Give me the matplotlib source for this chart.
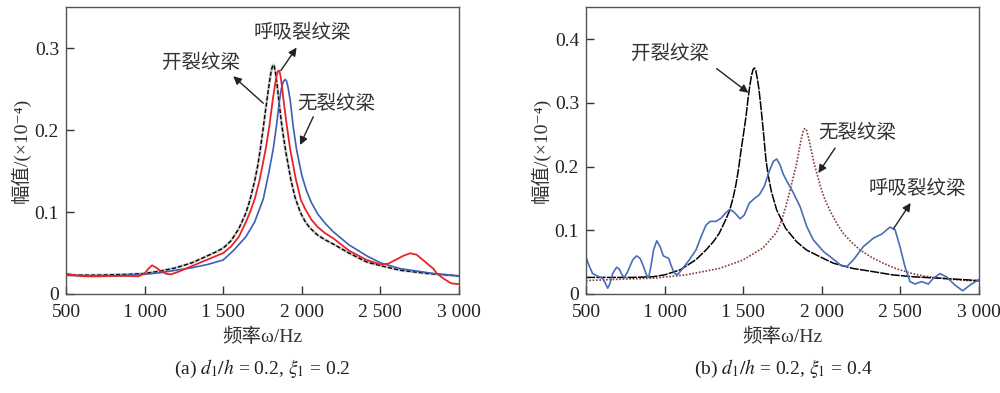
import matplotlib
matplotlib.use("Agg")
import matplotlib.pyplot as plt
from matplotlib.ticker import FixedLocator, FixedFormatter

plt.rcParams['font.family'] = ['Liberation Serif', 'Noto Sans CJK SC', 'DejaVu Sans']
plt.rcParams['mathtext.fontset'] = 'stix'

# ---- panel (a): d1/h = 0.2, xi1 = 0.2 ----
a_open_f = [500, 700, 900, 1000, 1100, 1200, 1300, 1370, 1450, 1500, 1550, 1600, 1640,
            1660, 1680, 1700, 1720, 1734, 1750, 1765, 1781, 1795, 1805, 1813, 1819,
            1825, 1832, 1842, 1853, 1870, 1885, 1900, 1930, 1957, 1990, 2020, 2050,
            2100, 2150, 2200, 2300, 2413, 2500, 2625, 2800, 3000]
a_open_amp = [0.023, 0.023, 0.024, 0.025, 0.028, 0.032, 0.038, 0.044, 0.051, 0.056,
              0.065, 0.080, 0.097, 0.108, 0.122, 0.138, 0.157, 0.174, 0.196, 0.218,
              0.241, 0.260, 0.272, 0.278, 0.280, 0.278, 0.271, 0.257, 0.238, 0.210,
              0.190, 0.172, 0.140, 0.118, 0.100, 0.089, 0.081, 0.072, 0.066, 0.061,
              0.050, 0.039, 0.0346, 0.029, 0.025, 0.022]

a_breath_f = [500, 550, 620, 700, 800, 900, 960, 1000, 1025, 1047, 1075, 1110, 1140,
              1168, 1200, 1250, 1300, 1400, 1500, 1550, 1600, 1645, 1675, 1702, 1730,
              1750, 1773, 1795, 1815, 1830, 1840, 1848, 1853, 1858, 1865, 1875, 1883,
              1905, 1926, 1960, 1994, 2021, 2060, 2100, 2150, 2200, 2300, 2413, 2500,
              2550, 2600, 2650, 2690, 2730, 2780, 2836, 2860, 2900, 2950, 3000]
a_breath_amp = [0.025, 0.023, 0.0215, 0.0215, 0.022, 0.022, 0.0215, 0.025, 0.031,
                0.035, 0.032, 0.027, 0.0245, 0.024, 0.026, 0.030, 0.034, 0.042, 0.050,
                0.058, 0.070, 0.088, 0.102, 0.117, 0.138, 0.157, 0.180, 0.207, 0.237,
                0.256, 0.267, 0.272, 0.273, 0.272, 0.266, 0.252, 0.238, 0.205, 0.177,
                0.142, 0.115, 0.104, 0.091, 0.082, 0.074, 0.068, 0.053, 0.0415, 0.036,
                0.037, 0.042, 0.047, 0.0497, 0.048, 0.040, 0.031, 0.025, 0.019, 0.013,
                0.012]

a_intact_f = [500, 600, 800, 1000, 1100, 1200, 1300, 1400, 1500, 1565, 1645, 1700,
              1755, 1790, 1819, 1840, 1857, 1870, 1880, 1888, 1895, 1903, 1912, 1926,
              1945, 1967, 2000, 2030, 2060, 2100, 2150, 2200, 2300, 2413, 2500, 2625,
              2836, 3000]
a_intact_amp = [0.023, 0.022, 0.022, 0.024, 0.026, 0.029, 0.032, 0.036, 0.0415,
                0.053, 0.070, 0.088, 0.116, 0.148, 0.178, 0.207, 0.235, 0.251, 0.258,
                0.261, 0.262, 0.260, 0.253, 0.237, 0.205, 0.176, 0.145, 0.126, 0.112,
                0.098, 0.086, 0.076, 0.060, 0.0466, 0.038, 0.031, 0.025, 0.022]

# ---- panel (b): d1/h = 0.2, xi1 = 0.4 ----
b_open_f = [500, 800, 924, 1000, 1100, 1136, 1200, 1263, 1310, 1348, 1380, 1412, 1435,
            1454, 1470, 1486, 1500, 1518, 1530, 1542, 1552, 1562, 1571, 1580, 1590,
            1600, 1610, 1620, 1632, 1645, 1660, 1680, 1713, 1770, 1840, 1903, 2000,
            2074, 2200, 2328, 2450, 2582, 2800, 3000]
b_open_amp = [0.026, 0.026, 0.027, 0.030, 0.038, 0.0436, 0.054, 0.069, 0.082, 0.0955,
              0.112, 0.130, 0.150, 0.172, 0.196, 0.225, 0.248, 0.279, 0.305, 0.327,
              0.342, 0.352, 0.355, 0.351, 0.338, 0.322, 0.300, 0.276, 0.245, 0.210,
              0.185, 0.160, 0.132, 0.103, 0.082, 0.069, 0.057, 0.0483, 0.040, 0.035,
              0.030, 0.027, 0.024, 0.021]

b_intact_f = [500, 700, 924, 1136, 1348, 1500, 1624, 1709, 1740, 1772, 1800, 1820,
              1840, 1855, 1868, 1880, 1888, 1895, 1903, 1912, 1922, 1936, 1950, 1968,
              1990, 2020, 2060, 2100, 2137, 2190, 2243, 2320, 2391, 2470, 2561, 2650,
              2752, 2870, 3000]
b_intact_amp = [0.021, 0.023, 0.0247, 0.030, 0.040, 0.0535, 0.072, 0.0955, 0.113,
                0.138, 0.165, 0.185, 0.205, 0.225, 0.242, 0.254, 0.259, 0.260, 0.257,
                0.249, 0.238, 0.222, 0.206, 0.190, 0.170, 0.148, 0.127, 0.109, 0.095,
                0.081, 0.069, 0.057, 0.0483, 0.040, 0.033, 0.028, 0.025, 0.022, 0.020]

b_breath_f = [500, 521, 542, 574, 606, 623, 638, 653, 670, 695, 712, 729, 744, 765,
              797, 822, 844, 865, 886, 899, 913, 930, 950, 971, 992, 1009, 1026, 1043,
              1062, 1083, 1115, 1157, 1200, 1232, 1263, 1289, 1327, 1359, 1391, 1416,
              1444, 1480, 1507, 1539, 1571, 1603, 1634, 1666, 1692, 1713, 1734, 1755,
              1776, 1819, 1862, 1904, 1946, 2010, 2074, 2127, 2159, 2201, 2265, 2328,
              2381, 2434, 2466, 2497, 2529, 2561, 2593, 2635, 2678, 2710, 2752, 2794,
              2847, 2896, 2943, 2996]
b_breath_amp = [0.0578, 0.0436, 0.032, 0.028, 0.0247, 0.0168, 0.009, 0.0168, 0.0325,
                0.042, 0.039, 0.030, 0.026, 0.0351, 0.0535, 0.0598, 0.056, 0.0436, 0.029,
                0.026, 0.0436, 0.0693, 0.0835, 0.0745, 0.0598, 0.0578, 0.056, 0.0436,
                0.0325, 0.0304, 0.040, 0.0535, 0.0693, 0.090, 0.108, 0.114, 0.114, 0.119,
                0.128, 0.133, 0.128, 0.118, 0.124, 0.1428, 0.150, 0.156, 0.169, 0.193,
                0.2084, 0.212, 0.203, 0.188, 0.178, 0.159, 0.137, 0.106, 0.085, 0.0668,
                0.0545, 0.044, 0.043, 0.0536, 0.0745, 0.0876, 0.094, 0.105, 0.1009,
                0.0745, 0.043, 0.0194, 0.0157, 0.0194, 0.0157, 0.0247, 0.032, 0.0268,
                0.014, 0.005, 0.014, 0.0221]

xticks = [500, 1000, 1500, 2000, 2500, 3000]
xtick_labels = ['500', '1 000', '1 500', '2 000', '2 500', '3 000']

fig = plt.figure(figsize=(10, 3.93), dpi=100)
ax1 = fig.add_axes([0.066, 0.252, 0.393, 0.729])
ax2 = fig.add_axes([0.586, 0.252, 0.393, 0.729])

arrow = dict(arrowstyle='-|>', color='#222222', lw=1.0, mutation_scale=12,
             shrinkA=0, shrinkB=0)
cjk = ['Noto Sans CJK SC', 'DejaVu Sans']


def style_axes(ax, yticks, ylabels, ymax):
    ax.set_xlim(500, 3000)
    ax.set_ylim(0, ymax)
    ax.xaxis.set_major_locator(FixedLocator(xticks))
    ax.xaxis.set_major_formatter(FixedFormatter(xtick_labels))
    ax.yaxis.set_major_locator(FixedLocator(yticks))
    ax.yaxis.set_major_formatter(FixedFormatter(ylabels))
    ax.tick_params(direction='in', length=6, width=1, labelsize=14,
                   top=False, right=False, colors='#333333', labelcolor='#222222')
    ax.tick_params(axis='x', pad=7)
    ax.tick_params(axis='y', pad=5)
    for s in ax.spines.values():
        s.set_color('#555555')
        s.set_linewidth(1.0)
    ax.set_xlabel('频率ω/Hz', fontsize=14, color='#333333', labelpad=5)
    ax.set_ylabel('幅值/(×10⁻⁴)', fontsize=14, color='#333333', labelpad=3)


# panel (a)
ax1.plot(a_open_f, a_open_amp, color='#999999', lw=2.0, alpha=0.5)
ax1.plot(a_open_f, a_open_amp, color='black', lw=1.0, ls=(0, (3, 1.5)))
ax1.plot(a_intact_f, a_intact_amp, color='#3a5fb5', lw=1.2)
ax1.plot(a_breath_f, a_breath_amp, color='#e8242a', lw=1.3)
style_axes(ax1, [0, 0.1, 0.2, 0.3], ['0', '0.1', '0.2', '0.3'], 0.35)

ax1.annotate('', xy=(1564, 0.266), xytext=(1755, 0.233), arrowprops=arrow)
ax1.text(1359, 0.283, '开裂纹梁', family=cjk, fontsize=14, ha='center', va='center', color='#333333')
ax1.annotate('', xy=(1967, 0.301), xytext=(1867, 0.273), arrowprops=arrow)
ax1.text(2001, 0.319, '呼吸裂纹梁', family=cjk, fontsize=14, ha='center', va='center', color='#333333')
ax1.annotate('', xy=(1989, 0.182), xytext=(2073, 0.2165), arrowprops=arrow)
ax1.text(2218, 0.233, '无裂纹梁', family=cjk, fontsize=14, ha='center', va='center', color='#333333')

# panel (b)
ax2.plot(b_intact_f, b_intact_amp, color='#8b3a3a', lw=1.2, ls=(0, (1, 1)))
ax2.plot(b_open_f, b_open_amp, color='black', lw=1.1, ls=(0, (6, 0.8)))
ax2.plot(b_breath_f, b_breath_amp, color='#4a6db8', lw=1.2)
style_axes(ax2, [0, 0.1, 0.2, 0.3, 0.4], ['0', '0.1', '0.2', '0.3', '0.4'], 0.45)

ax2.annotate('', xy=(1533, 0.316), xytext=(1331, 0.354), arrowprops=arrow)
ax2.text(1037, 0.377, '开裂纹梁', family=cjk, fontsize=14, ha='center', va='center', color='#333333')
ax2.annotate('', xy=(1978, 0.190), xytext=(2084, 0.229), arrowprops=arrow)
ax2.text(2228, 0.253, '无裂纹梁', family=cjk, fontsize=14, ha='center', va='center', color='#333333')
ax2.annotate('', xy=(2565, 0.143), xytext=(2455, 0.102), arrowprops=arrow)
ax2.text(2609, 0.165, '呼吸裂纹梁', family=cjk, fontsize=14, ha='center', va='center', color='#333333')

fig.text(0.262, 0.061, '(a) $d_1/h$ = 0.2, $\\xi_1$ = 0.2', ha='center', va='center',
         fontsize=14, color='#222222')
fig.text(0.783, 0.061, '(b) $d_1/h$ = 0.2, $\\xi_1$ = 0.4', ha='center', va='center',
         fontsize=14, color='#222222')

fig.savefig('out.png', dpi=100)
